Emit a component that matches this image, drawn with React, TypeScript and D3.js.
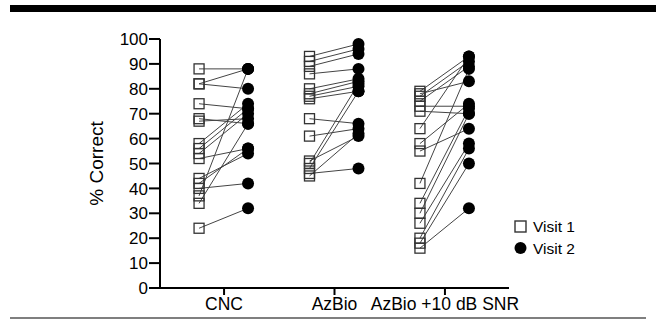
import React from 'react';
import * as d3 from 'd3';

const categories = ['CNC', 'AzBio', 'AzBio +10 dB SNR'];
const yTicks = [0, 10, 20, 30, 40, 50, 60, 70, 80, 90, 100];

// visit 1 / visit 2 per subject
const cncVisit1 = [88, 82, 82, 74, 68, 67, 58, 56, 54, 52, 44, 42, 40, 37, 34, 24];
const cncVisit2 = [88, 88, 80, 72, 66, 68, 74, 72, 70, 56, 54, 56, 42, 88, 66, 32];

const azbioVisit1 = [93, 91, 89, 86, 80, 78, 77, 76, 68, 61, 51, 50, 48, 46, 45];
const azbioVisit2 = [98, 96, 94, 88, 84, 83, 81, 79, 66, 64, 61, 82, 79, 48, 62];

const snrVisit1 = [79, 78, 77, 75, 73, 71, 64, 58, 55, 42, 34, 30, 26, 20, 18, 16];
const snrVisit2 = [93, 83, 91, 89, 73, 70, 93, 74, 64, 88, 72, 70, 58, 56, 50, 32];

const legendLabels = ['Visit 1', 'Visit 2'];

const groups = [
  { name: categories[0], v1: cncVisit1, v2: cncVisit2 },
  { name: categories[1], v1: azbioVisit1, v2: azbioVisit2 },
  { name: categories[2], v1: snrVisit1, v2: snrVisit2 },
];

const width = 656;
const height = 331;
const axisLeft = 160;
const axisRight = 509;
const font = 'Liberation Sans, Arial, sans-serif';

export default function App() {
  const x = d3.scalePoint<string>()
    .domain(categories)
    .range([axisLeft, axisRight])
    .padding(0.58);

  const y = d3.scaleLinear().domain([0, 100]).range([288, 39]);

  const off1 = -25;
  const off2 = 24;
  const sq = 10;

  return (
    <svg width={width} height={height}
      style={{ position: 'absolute', left: 0, top: 0, background: '#fff' }}>
      <rect x={10} y={5} width={646} height={7} fill="#000" />
      <line x1={10} x2={646} y1={318} y2={318} stroke="#000" strokeWidth={1.2} />

      {/* y axis */}
      <line x1={axisLeft} x2={axisLeft} y1={y(100)} y2={y(0)} stroke="#000" strokeWidth={2} />
      {yTicks.map(t => (
        <g key={t}>
          <line x1={axisLeft - 11} x2={axisLeft} y1={y(t)} y2={y(t)} stroke="#000" strokeWidth={2} />
          <text x={axisLeft - 12} y={y(t)} dy="0.36em" textAnchor="end"
            fontFamily={font} fontSize={17}>{t}</text>
        </g>
      ))}
      <text transform={`translate(103,${y(50)}) rotate(-90)`} textAnchor="middle"
        fontFamily={font} fontSize={19}>% Correct</text>

      {/* x axis */}
      <line x1={axisLeft - 1} x2={axisRight} y1={y(0)} y2={y(0)} stroke="#000" strokeWidth={2} />
      {categories.map(c => (
        <g key={c}>
          <line x1={x(c)} x2={x(c)} y1={y(0)} y2={y(0) + 7} stroke="#000" strokeWidth={2} />
          <text x={x(c)} y={y(0) + 22} textAnchor="middle" fontFamily={font} fontSize={17.5}>{c}</text>
        </g>
      ))}

      {/* connecting lines */}
      {groups.map(g => g.v1.map((v, i) => (
        <line key={`${g.name}-l${i}`}
          x1={(x(g.name) ?? 0) + off1} y1={y(v)}
          x2={(x(g.name) ?? 0) + off2} y2={y(g.v2[i])}
          stroke="#444" strokeWidth={1} />
      )))}

      {/* visit 1 squares */}
      {groups.map(g => g.v1.map((v, i) => (
        <rect key={`${g.name}-s${i}`}
          x={(x(g.name) ?? 0) + off1 - sq / 2} y={y(v) - sq / 2}
          width={sq} height={sq} fill="none" stroke="#333" strokeWidth={1.3} />
      )))}

      {/* visit 2 circles */}
      {groups.map(g => g.v2.map((v, i) => (
        <circle key={`${g.name}-c${i}`}
          cx={(x(g.name) ?? 0) + off2} cy={y(v)} r={6} fill="#000" />
      )))}

      {/* legend */}
      <rect x={515} y={221} width={11} height={11} fill="#fff" stroke="#333" strokeWidth={1.4} />
      <text x={533} y={226.5} dy="0.36em" fontFamily={font} fontSize={15.5}>{legendLabels[0]}</text>
      <circle cx={520.5} cy={248} r={6} fill="#000" />
      <text x={533} y={248} dy="0.36em" fontFamily={font} fontSize={15.5}>{legendLabels[1]}</text>
    </svg>
  );
}
